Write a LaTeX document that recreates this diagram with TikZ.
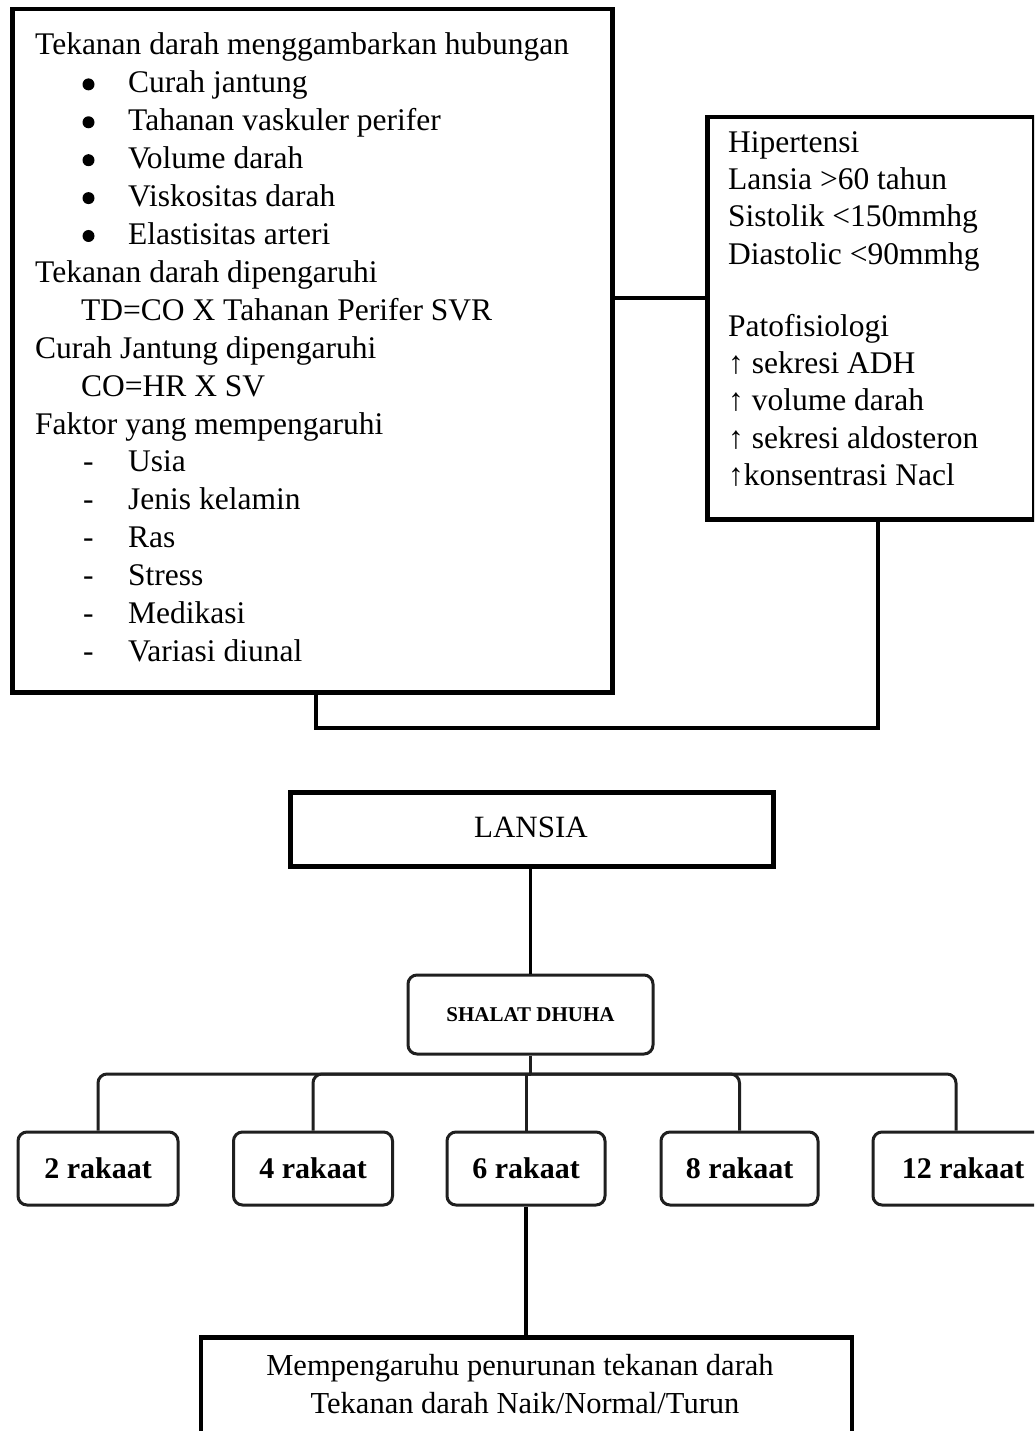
\documentclass[tikz,border=0pt]{standalone}
\usepackage{fontspec}
\setmainfont{Liberation Serif}
\usetikzlibrary{calc}
\newcommand{\dashitem}{\makebox[45pt][l]{-}}
\tikzset{
  bigbox/.style={draw=black, line width=4.5pt, inner sep=0pt, anchor=north west},
  txt/.style={anchor=base west, inner sep=0pt, font=\fontsize{31.5}{38}\selectfont},
  ctxt/.style={anchor=base, inner sep=0pt, font=\fontsize{31}{38}\selectfont},
  bul/.style={circle, fill=black, inner sep=0pt, minimum size=12pt},
  conn/.style={draw=black, line width=4pt},
  lconn/.style={draw=black!88, line width=3pt},
  rk/.style={draw=black!88, line width=3pt, rounded corners=9pt, minimum height=73pt, inner sep=0pt, font=\fontsize{30}{36}\selectfont\bfseries},
}
\begin{document}
\begin{tikzpicture}[x=1pt,y=-1pt]
\useasboundingbox (0,0) rectangle (1034,1431);
\clip (0,0) rectangle (1034,1431);
\fill[white] (0,0) rectangle (1034,1431);

% top boxes
\node[bigbox, minimum width=600pt, minimum height=683pt] (lbox) at (10,7) {};
\node[bigbox, minimum width=327pt, minimum height=402pt] (rbox) at (705,115) {};

% left box text
\foreach \xx/\t [count=\i] in {
  35/{Tekanan darah menggambarkan hubungan},
  128/{Curah jantung},
  128/{Tahanan vaskuler perifer},
  128/{Volume darah},
  128/{Viskositas darah},
  128/{Elastisitas arteri},
  35/{Tekanan darah dipengaruhi},
  81/{TD=CO X Tahanan Perifer SVR},
  35/{Curah Jantung dipengaruhi},
  81/{CO=HR X SV},
  35/{Faktor yang mempengaruhi},
  83/{\dashitem Usia},
  83/{\dashitem Jenis kelamin},
  83/{\dashitem Ras},
  83/{\dashitem Stress},
  83/{\dashitem Medikasi},
  83/{\dashitem Variasi diunal}}
  \node[txt] (lt\i) at (\xx,{55+(\i-1)*37.9}) {\t};
% bullets
\foreach \i in {2,...,6}
  \node[bul] (b\i) at ({88.5},{55+(\i-1)*37.9-8.5}) {};

% right box text
\foreach \yy/\t [count=\i] in {
  153/{Hipertensi},
  190/{Lansia >60 tahun},
  227/{Sistolik <150mmhg},
  264/{Diastolic <90mmhg},
  336/{Patofisiologi},
  373/{↑ sekresi ADH},
  410/{↑ volume darah},
  448/{↑ sekresi aldosteron},
  485/{↑konsentrasi Nacl}}
  \node[txt] (rt\i) at (728,\yy) {\t};

% top connectors
\coordinate (jy) at (0,298);
\draw[conn] (lbox.east |- jy) -- (rbox.west |- jy);
\coordinate (c1) at (316,728);
\coordinate (c2) at (878,728);
\draw[conn] (lbox.south -| c1) -- (c1) -- (c2) -- (rbox.south -| c2);

% LANSIA
\node[draw=black, line width=5pt, minimum width=483pt, minimum height=74pt, inner sep=0pt] (lansia) at (531.5,829) {};
\node[ctxt] (lansiat) at (531,837) {LANSIA};

% SHALAT DHUHA
\node[draw=black!88, line width=3pt, rounded corners=9pt, minimum width=245pt, minimum height=79pt, inner sep=0pt, font=\fontsize{21}{25}\selectfont\bfseries] (shalat) at (530.5,1014.5) {SHALAT DHUHA};
\draw[draw=black, line width=3.5pt] (lansia.south -| shalat.north) -- (shalat.north);

% rakaat boxes
\node[rk, minimum width=160pt] (r2) at (98,1168.5) {2 rakaat};
\node[rk, minimum width=159pt] (r4) at (313,1168.5) {4 rakaat};
\node[rk, minimum width=158pt] (r6) at (526,1168.5) {6 rakaat};
\node[rk, minimum width=157pt] (r8) at (739.5,1168.5) {8 rakaat};
\node[rk, minimum width=180pt] (r12) at (963,1168.5) {12 rakaat};

\coordinate (busy) at (0,1074);
\coordinate (bus) at (shalat.south |- busy);
\coordinate (d12) at (956,0);
\draw[lconn] (shalat.south) -- (bus);
\draw[lconn, rounded corners=9pt] (bus) -| (r2.north);
\draw[lconn, rounded corners=9pt] (bus) -| (r4.north);
\draw[lconn] (bus) -| (r6.north);
\draw[lconn, rounded corners=9pt] (bus) -| (r8.north);
\draw[lconn, rounded corners=9pt] (bus) -| (r12.north -| d12);

% result box
\node[draw=black, line width=4.5pt, minimum width=651pt, minimum height=160pt, inner sep=0pt, anchor=north] (res) at (526.5,1335) {};
\node[ctxt, font=\fontsize{30.5}{38}\selectfont] (res1) at (520,1375) {Mempengaruhu penurunan tekanan darah};
\node[ctxt, font=\fontsize{30.5}{38}\selectfont] (res2) at (525,1413) {Tekanan darah Naik/Normal/Turun};
\draw[draw=black, line width=3.5pt] (r6.south) -- (res.north -| r6.south);
\end{tikzpicture}
\end{document}
